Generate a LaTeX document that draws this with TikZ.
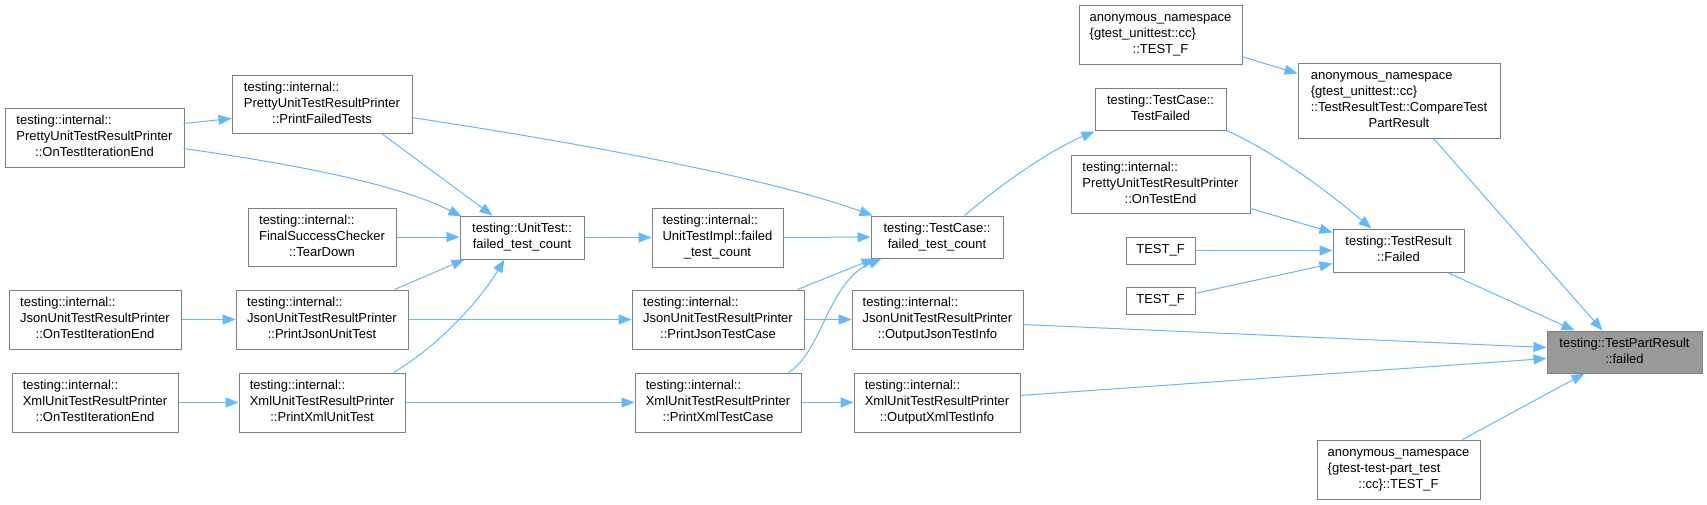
\documentclass[tikz,border=0pt]{standalone}
\usepackage{fontspec}
\setmainfont{Liberation Sans}
\usetikzlibrary{arrows.meta,calc}
\definecolor{edgeblue}{HTML}{63B8FF}
\definecolor{boxline}{HTML}{808080}
\definecolor{hlfill}{HTML}{999999}
\newcommand\lbl[2]{\begin{tabular}{@{}l@{}}#1\\\multicolumn{1}{@{}c@{}}{#2}\end{tabular}}
\begin{document}
\begin{tikzpicture}[x=1pt,y=-1pt,
  box/.style={draw=boxline, line width=1pt, fill=white, inner sep=0pt,
    font=\fontsize{13}{16}\selectfont, text=black},
  hl/.style={box, fill=hlfill},
  sz/.style 2 args={minimum width=#1pt, minimum height=#2pt},
  edge/.style={draw=edgeblue, line width=1pt, -{Triangle[length=13pt,width=10pt]}},
]
\useasboundingbox[fill=white] (0,0) rectangle (1707,504);

% nodes
\node[box,sz={179}{59}] (PIE) at (94.5,137.5) {\lbl{testing::internal::\\PrettyUnitTestResultPrinter}{::OnTestIterationEnd}};
\node[box,sz={180}{58}] (PFT) at (322,104) {\lbl{testing::internal::\\PrettyUnitTestResultPrinter}{::PrintFailedTests}};
\node[box,sz={148}{58}] (FSC) at (322,237) {\lbl{testing::internal::\\FinalSuccessChecker}{::TearDown}};
\node[box,sz={172}{59}] (JIE) at (95,319.5) {\lbl{testing::internal::\\JsonUnitTestResultPrinter}{::OnTestIterationEnd}};
\node[box,sz={172}{59}] (PJU) at (322,319.5) {\lbl{testing::internal::\\JsonUnitTestResultPrinter}{::PrintJsonUnitTest}};
\node[box,sz={166}{59}] (XIE) at (95,402.5) {\lbl{testing::internal::\\XmlUnitTestResultPrinter}{::OnTestIterationEnd}};
\node[box,sz={166}{59}] (PXU) at (322,402.5) {\lbl{testing::internal::\\XmlUnitTestResultPrinter}{::PrintXmlUnitTest}};
\node[box,sz={124}{43}] (UT) at (522,237.5) {\lbl{testing::UnitTest::}{failed\_test\_count}};
\node[box,sz={131}{59}] (UTI) at (717.5,237.5) {\lbl{testing::internal::\\UnitTestImpl::failed}{\_test\_count}};
\node[box,sz={172}{59}] (PJT) at (718,319.5) {\lbl{testing::internal::\\JsonUnitTestResultPrinter}{::PrintJsonTestCase}};
\node[box,sz={166}{59}] (PXT) at (718,402.5) {\lbl{testing::internal::\\XmlUnitTestResultPrinter}{::PrintXmlTestCase}};
\node[box,sz={132}{42}] (TCF) at (937,237) {\lbl{testing::TestCase::}{failed\_test\_count}};
\node[box,sz={171}{59}] (OJT) at (937.5,319.5) {\lbl{testing::internal::\\JsonUnitTestResultPrinter}{::OutputJsonTestInfo}};
\node[box,sz={166}{59}] (OXT) at (937,402.5) {\lbl{testing::internal::\\XmlUnitTestResultPrinter}{::OutputXmlTestInfo}};
\node[box,sz={163}{59}] (ATF) at (1160.5,34.5) {\lbl{anonymous\_namespace\\\{gtest\_unittest::cc\}}{::TEST\_F}};
\node[box,sz={131}{42}] (TCTF) at (1160.5,109) {\lbl{testing::TestCase::}{TestFailed}};
\node[box,sz={179}{58}] (POTE) at (1160.5,184) {\lbl{testing::internal::\\PrettyUnitTestResultPrinter}{::OnTestEnd}};
\node[box,sz={69}{27}] (TF1) at (1160.5,250.5) {TEST\_F};
\node[box,sz={69}{27}] (TF2) at (1160.5,300.5) {TEST\_F};
\node[box,sz={131}{43}] (TRF) at (1398.5,250.5) {\lbl{testing::TestResult}{::Failed}};
\node[box,sz={202}{75}] (CMP) at (1399,100.5) {\lbl{anonymous\_namespace\\\{gtest\_unittest::cc\}\\::TestResultTest::CompareTest}{PartResult}};
\node[hl,sz={155}{42}] (TPR) at (1624.5,352) {\lbl{testing::TestPartResult}{::failed}};
\node[box,sz={163}{59}] (APT) at (1398.5,469.5) {\lbl{anonymous\_namespace\\\{gtest-test-part\_test}{::cc\}::TEST\_F}};

% edges
\draw[edge] ($(PIE.north west)+(179,16)$) -- ($(PFT.north west)+(0,44)$);
\draw[edge] ($(PIE.north west)+(179,41)$) .. controls (300,165) and (400,185) .. ($(UT.north west)+(2,1)$);
\draw[edge] ($(PFT.south west)+(150,0)$) -- ($(UT.north west)+(33,0)$);
\draw[edge] ($(PFT.north west)+(180,43)$) .. controls (560,140) and (760,175) .. ($(TCF.north west)+(2,0)$);
\draw[edge] (FSC.east) -- (UT.west |- FSC.east);
\draw[edge] (JIE) -- (PJU);
\draw[edge] ($(PJU.north west)+(159,0)$) -- ($(UT.south west)+(5,0)$);
\draw[edge] (PJU) -- (PJT);
\draw[edge] (XIE) -- (PXU);
\draw[edge] ($(PXU.north west)+(155,0)$) .. controls (440,345) and (480,300) .. ($(UT.south west)+(45,0)$);
\draw[edge] (PXU) -- (PXT);
\draw[edge] (UT) -- (UTI);
\draw[edge] (UTI) -- (TCF);
\draw[edge] ($(PJT.north west)+(166,0)$) -- ($(TCF.south west)+(4,0)$);
\draw[edge] ($(PXT.north west)+(154,0)$) .. controls (822,352) and (828,282) .. ($(TCF.south west)+(11,0)$);
\draw[edge] (PJT) -- (OJT);
\draw[edge] (PXT) -- (OXT);
\draw[edge] ($(TCF.north west)+(94,0)$) .. controls (1000,185) and (1050,150) .. ($(TCTF.south west)+(0,1)$);
\draw[edge] (TCTF.south east) .. controls (1270,150) and (1320,185) .. ($(TRF.north west)+(39,0)$);
\draw[edge] ($(POTE.north east)+(0,54)$) -- ($(TRF.north west)+(0,4)$);
\draw[edge] (TF1) -- (TRF);
\draw[edge] ($(TF2.north west)+(69,7)$) -- ($(TRF.north west)+(0,35)$);
\draw[edge] ($(ATF.north west)+(163,52)$) -- ($(CMP.north west)+(0,11)$);
\draw[edge] ($(CMP.south west)+(136,0)$) -- ($(TPR.north west)+(56,0)$);
\draw[edge] ($(TRF.south west)+(115,0)$) -- ($(TPR.north west)+(28,0)$);
\draw[edge] ($(OJT.north west)+(171,35)$) -- ($(TPR.north west)+(0,17)$);
\draw[edge] ($(OXT.north west)+(166,23)$) -- ($(TPR.north west)+(0,28)$);
\draw[edge] ($(APT.north west)+(146,0)$) -- ($(TPR.south west)+(38,0)$);
\end{tikzpicture}
\end{document}
